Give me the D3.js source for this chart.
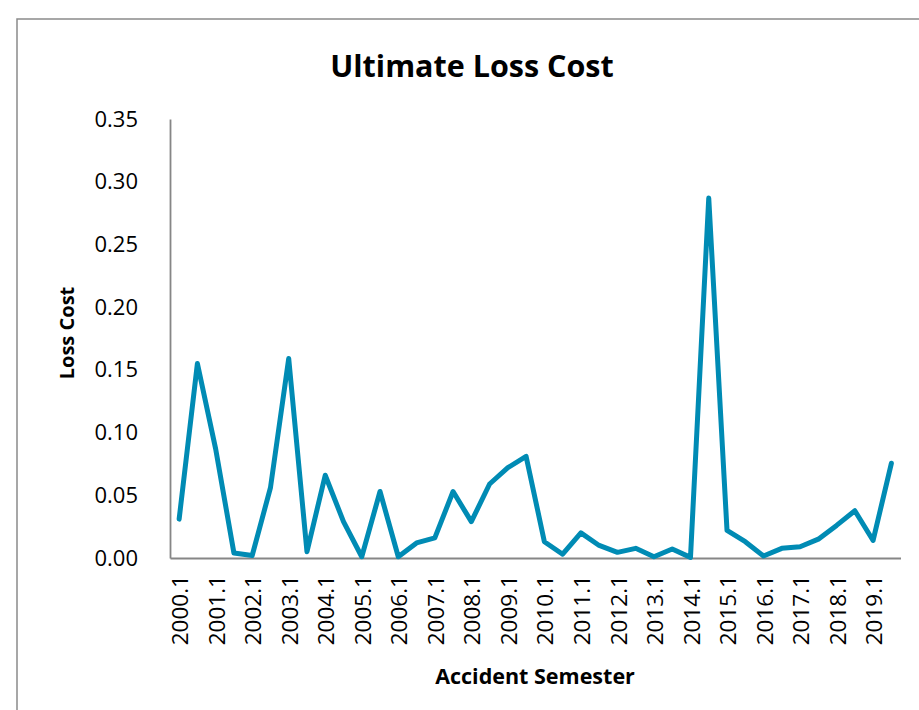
<!DOCTYPE html>
<html>
<head>
<meta charset="utf-8">
<script src="https://cdn.jsdelivr.net/npm/d3@7"></script>
<style>
  html, body { margin: 0; padding: 0; background: #fff; }
  svg { display: block; }
  text { font-family: "Open Sans", "Liberation Sans", sans-serif; fill: #000; }
</style>
</head>
<body>
<div id="chart"></div>
<script>
const semesters = [
  "2000.1","2000.2","2001.1","2001.2","2002.1","2002.2","2003.1","2003.2","2004.1","2004.2",
  "2005.1","2005.2","2006.1","2006.2","2007.1","2007.2","2008.1","2008.2","2009.1","2009.2",
  "2010.1","2010.2","2011.1","2011.2","2012.1","2012.2","2013.1","2013.2","2014.1","2014.2",
  "2015.1","2015.2","2016.1","2016.2","2017.1","2017.2","2018.1","2018.2","2019.1","2019.2"
];
const lossCost = [
  0.031, 0.155, 0.087, 0.004, 0.002, 0.056, 0.159, 0.005, 0.066, 0.029,
  0.001, 0.053, 0.001, 0.012, 0.016, 0.053, 0.029, 0.059, 0.072, 0.081,
  0.013, 0.003, 0.020, 0.010, 0.0045, 0.0077, 0.001, 0.0072, 0.0005, 0.287,
  0.022, 0.013, 0.0016, 0.0077, 0.009, 0.015, 0.026, 0.0377, 0.014, 0.0755
];
const yTicks = [0, 0.05, 0.10, 0.15, 0.20, 0.25, 0.30, 0.35];
const xTickLabels = semesters.filter(s => s.endsWith(".1"));

(function () {
const W = 919, H = 710;
const svg = d3.select("#chart").append("svg").attr("width", W).attr("height", H);

// chart frame
svg.append("rect")
  .attr("x", 17).attr("y", 19).attr("width", 910).attr("height", 720)
  .attr("fill", "none").attr("stroke", "#8a8a8a").attr("stroke-width", 1.5);

const pLeft = 170, pRight = 900.5, pTop = 119, pBottom = 558;

const x = d3.scaleBand().domain(semesters).range([pLeft, pRight]).paddingInner(0).paddingOuter(0);
const y = d3.scaleLinear().domain([0, 0.35]).range([pBottom, pTop]);

// title
svg.append("text")
  .attr("x", 472).attr("y", 77)
  .attr("text-anchor", "middle")
  .attr("font-weight", "bold").attr("font-size", 30.5)
  .text("Ultimate Loss Cost");

// y axis
const yAxis = d3.axisLeft(y).tickValues(yTicks).tickFormat(d3.format(".2f")).tickSize(0).tickPadding(32);
const gy = svg.append("g").attr("transform", `translate(${pLeft},0)`).call(yAxis);
gy.select(".domain").attr("stroke", "#868686").attr("stroke-width", 1.8);
gy.selectAll("text").attr("font-size", 22).attr("font-family", "'Open Sans', sans-serif").attr("fill", "#000");

// x axis
const xAxis = d3.axisBottom(x).tickValues(xTickLabels).tickSize(0).tickPadding(0);
const gx = svg.append("g").attr("transform", `translate(0,${pBottom})`).call(xAxis);
gx.select(".domain").attr("stroke", "#868686").attr("stroke-width", 1.8);
gx.selectAll("text")
  .attr("font-size", 22.5).attr("font-family", "'Open Sans', sans-serif").attr("fill", "#000")
  .attr("text-anchor", "end")
  .attr("transform", "rotate(-90)")
  .attr("x", -17).attr("y", 1).attr("dy", "0.36em");

// axis titles
svg.append("text")
  .attr("transform", "translate(74,333) rotate(-90)")
  .attr("text-anchor", "middle")
  .attr("font-weight", "bold").attr("font-size", 20)
  .text("Loss Cost");

svg.append("text")
  .attr("x", 535).attr("y", 684)
  .attr("text-anchor", "middle")
  .attr("font-weight", "bold").attr("font-size", 21.5)
  .text("Accident Semester");

// line
const line = d3.line()
  .x((d, i) => x(semesters[i]) + x.bandwidth() / 2)
  .y(d => y(d));

svg.append("path")
  .datum(lossCost)
  .attr("d", line)
  .attr("fill", "none")
  .attr("stroke", "#008bb4")
  .attr("stroke-width", 5)
  .attr("stroke-linejoin", "round")
  .attr("stroke-linecap", "round");
})();
</script>
</body>
</html>
